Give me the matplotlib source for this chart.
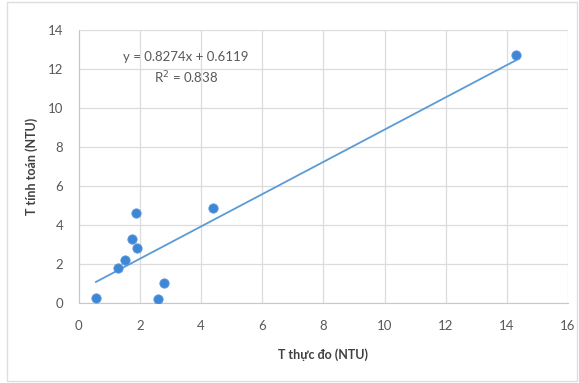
import numpy as np
import matplotlib.pyplot as plt
from matplotlib.patches import Rectangle

# du lieu doc tu hinh
t_thuc_do = [0.56, 1.27, 1.5, 1.73, 1.9, 1.86, 2.6, 2.8, 4.38, 14.3]
t_tinh_toan = [0.26, 1.8, 2.2, 3.3, 2.8, 4.6, 0.2, 1.03, 4.85, 12.7]
slope, intercept = 0.8274, 0.6119
r2 = 0.838

plt.rcParams['font.family'] = ['Lato', 'DejaVu Sans']

fig = plt.figure(figsize=(5.79, 3.83), dpi=100)
ax = fig.add_axes([0.136, 0.209, 0.845, 0.713])

ax.scatter(t_thuc_do, t_tinh_toan, s=45, color='#3f86d4', edgecolors='#5a9ae0',
           linewidths=0.6, zorder=3)

xs = np.array([min(t_thuc_do), max(t_thuc_do)])
ax.plot(xs, slope * xs + intercept, color='#5b9bd5', lw=1.3, zorder=2)

ax.set_xlim(0, 16)
ax.set_ylim(0, 14)
ax.set_xticks(range(0, 17, 2))
ax.set_yticks(range(0, 15, 2))
ax.grid(True, color='#dcdcdc', lw=0.9)
ax.set_axisbelow(True)
ax.tick_params(length=0, labelsize=9.5, colors='#595959')
ax.tick_params(axis='x', pad=12)
ax.tick_params(axis='y', pad=11)
for s in ['top', 'right']:
    ax.spines[s].set_visible(False)
ax.spines['left'].set_color('#b4c7e7')
ax.spines['bottom'].set_color('#c8c8c8')

ax.set_xlabel('T thực đo (NTU)', fontsize=9, color='#404040', fontweight='bold', labelpad=12)
ax.set_ylabel('T tính toán (NTU)', fontsize=9, color='#404040', fontweight='bold', labelpad=7)

ax.text(3.5, 12.6, 'y = 0.8274x + 0.6119', ha='center', va='center', fontsize=9.5, color='#595959')
ax.text(3.5, 11.55, 'R$^2$ = 0.838', ha='center', va='center', fontsize=9.5, color='#595959')

fig.patches.append(Rectangle((0.012, 0.005), 0.985, 0.99, transform=fig.transFigure,
                             fill=False, edgecolor='#dedede', lw=1))

fig.savefig('out.png', dpi=100)
